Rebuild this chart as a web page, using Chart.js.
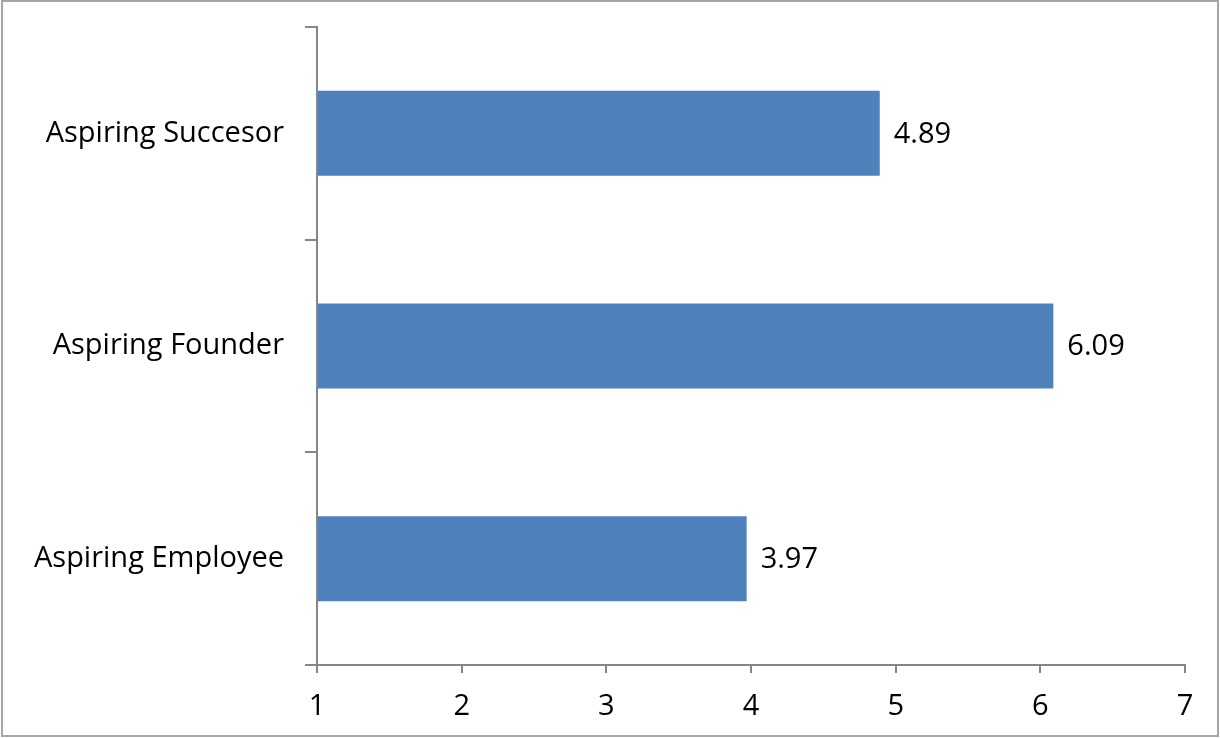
<!DOCTYPE html>
<html>
<head>
<meta charset="utf-8">
<script src="https://cdn.jsdelivr.net/npm/chart.js@4"></script>
<style>
html,body{margin:0;padding:0;background:#fff;}
#wrap{position:relative;width:1220px;height:738px;}
#frame{position:absolute;left:1px;top:0;width:1218px;height:737px;box-sizing:border-box;border:2px solid #a6a6a6;pointer-events:none;}
canvas{display:block;}
</style>
</head>
<body>
<div id="wrap"><canvas id="c" width="1220" height="738"></canvas><div id="frame"></div></div>
<script>
const categories = ["Aspiring Succesor", "Aspiring Founder", "Aspiring Employee"];
const values = [4.89, 6.09, 3.97];
const valueLabels = ["4.89", "6.09", "3.97"];
const xMin = 1, xMax = 7, xStep = 1;

const FONT = "'Open Sans', sans-serif";
const FSIZE = 29;

const valueLabelPlugin = {
  id: 'valueLabels',
  afterDatasetsDraw(chart) {
    const ctx = chart.ctx;
    const meta = chart.getDatasetMeta(0);
    ctx.save();
    ctx.font = FSIZE + "px " + FONT;
    ctx.fillStyle = "#000";
    ctx.textAlign = "left";
    ctx.textBaseline = "middle";
    meta.data.forEach((bar, i) => {
      ctx.fillText(valueLabels[i], bar.x + 14, bar.y + 1);
    });
    ctx.restore();
  }
};

new Chart(document.getElementById('c'), {
  type: 'bar',
  data: {
    labels: categories,
    datasets: [{
      data: values,
      base: xMin,
      backgroundColor: '#4F81BD',
      borderWidth: 0,
      barPercentage: 0.4,
      categoryPercentage: 1.0
    }]
  },
  options: {
    indexAxis: 'y',
    responsive: false,
    animation: false,
    events: [],
    layout: { padding: { top: 27, right: 35, left: 0, bottom: 0 } },
    plugins: { legend: { display: false }, tooltip: { enabled: false } },
    scales: {
      x: {
        min: xMin, max: xMax,
        ticks: { stepSize: xStep, color: '#000', font: { family: FONT, size: FSIZE }, padding: 16, maxRotation: 0 },
        grid: { drawOnChartArea: false, color: '#868686', tickLength: 8, lineWidth: 2 },
        border: { color: '#868686', width: 2 },
        afterFit(s) { s.height = 73; s.paddingLeft = 0; s.paddingRight = 0; }
      },
      y: {
        offset: true,
        ticks: { color: '#000', font: { family: FONT, size: FSIZE }, padding: 21 },
        grid: { offset: true, drawOnChartArea: false, color: '#868686', tickLength: 12, lineWidth: 2 },
        border: { color: '#868686', width: 2 },
        afterFit(s) { s.width = 317; s.paddingTop = 0; s.paddingBottom = 0; }
      }
    }
  },
  plugins: [valueLabelPlugin]
});
</script>
</body>
</html>
